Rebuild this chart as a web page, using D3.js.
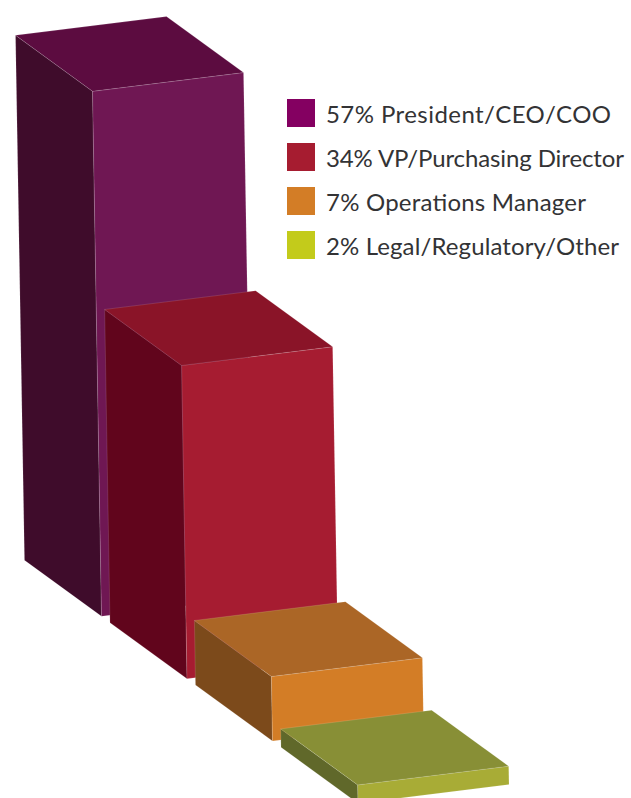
<!DOCTYPE html>
<html>
<head>
<meta charset="utf-8">
<script src="https://cdn.jsdelivr.net/npm/d3@7"></script>
<style>
  html, body { margin: 0; padding: 0; background: #fff; overflow: hidden; }
  svg { display: block; }
  .legend text { font-family: Lato, sans-serif; font-size: 24px; font-weight: 400; fill: #333335; }
  .face { stroke: #fff; stroke-opacity: 0.18; stroke-width: 0.7; stroke-linejoin: round; }
</style>
</head>
<body>
<div id="chart-container"></div>
<script>
// Data
const categories = ["President/CEO/COO", "VP/Purchasing Director", "Operations Manager", "Legal/Regulatory/Other"];
const values = [57, 34, 7, 2];

// Colours per bar
const legendColors = ["#840061", "#a61c30", "#d37d26", "#c3cb1b"];
const frontColors = ["#6f1753", "#a61c31", "#d37d26", "#a8ac36"];
const topColors = ["#5c0c40", "#8a1428", "#ab6626", "#888f36"];
const sideColors = ["#3f0c2b", "#61051c", "#7c4a1b", "#60682a"];

// Configuration
const width = 631;
const height = 798;
const widthVec = [151, -18.7];  // front edge of a bar
const depthVec = [-77, -56];    // side edge of a bar
const lean = 0.0171;            // verticals tilt a little, it's a perspective shot
const labelLengths = [285, 298, 260, 293]; // the original font is a Futura, so fit each line

const svg = d3.select("#chart-container")
    .append("svg")
    .attr("width", width)
    .attr("height", height);

// Bars step down the page diagonally, so one scale for each screen axis
const baseX = d3.scalePoint().domain(categories).range([101.5, 358]);
const baseY = d3.scalePoint().domain(categories).range([616.3, 803.3]);
const barHeight = d3.scaleLinear().domain([0, 57]).range([0, 525]);

// u along the front edge, d into the depth, v is the value height
function project(cat, u, d, v) {
    const h = barHeight(v);
    return [
        baseX(cat) + u * widthVec[0] + d * depthVec[0] - lean * h,
        baseY(cat) + u * widthVec[1] + d * depthVec[1] - h
    ];
}

const face = d3.line().curve(d3.curveLinearClosed);

const bars = svg.append("g")
    .selectAll("g")
    .data(categories.map((c, i) => ({ cat: c, value: values[i], i })))
    .join("g")
    .attr("class", "bar");

// Side
bars.append("path")
    .attr("class", "face")
    .attr("fill", d => sideColors[d.i])
    .attr("d", d => face([
        project(d.cat, 0, 1, d.value),
        project(d.cat, 0, 0, d.value),
        project(d.cat, 0, 0, 0),
        project(d.cat, 0, 1, 0)
    ]));

// Front
bars.append("path")
    .attr("class", "face")
    .attr("fill", d => frontColors[d.i])
    .attr("d", d => face([
        project(d.cat, 0, 0, d.value),
        project(d.cat, 1, 0, d.value),
        project(d.cat, 1, 0, 0),
        project(d.cat, 0, 0, 0)
    ]));

// Top
bars.append("path")
    .attr("class", "face")
    .attr("fill", d => topColors[d.i])
    .attr("d", d => face([
        project(d.cat, 0, 1, d.value),
        project(d.cat, 1, 1, d.value),
        project(d.cat, 1, 0, d.value),
        project(d.cat, 0, 0, d.value)
    ]));

// Legend
const legendY = d3.scalePoint().domain(categories).range([99, 231]);

const legend = svg.append("g")
    .attr("class", "legend")
    .selectAll("g")
    .data(categories)
    .join("g")
    .attr("transform", d => `translate(287,${legendY(d)})`);

legend.append("rect")
    .attr("width", 28)
    .attr("height", 28)
    .attr("fill", (d, i) => legendColors[i]);

legend.append("text")
    .attr("x", 39)
    .attr("y", 24)
    .attr("textLength", (d, i) => labelLengths[i])
    .attr("lengthAdjust", "spacing")
    .text((d, i) => `${values[i]}% ${d}`);
</script>
</body>
</html>
